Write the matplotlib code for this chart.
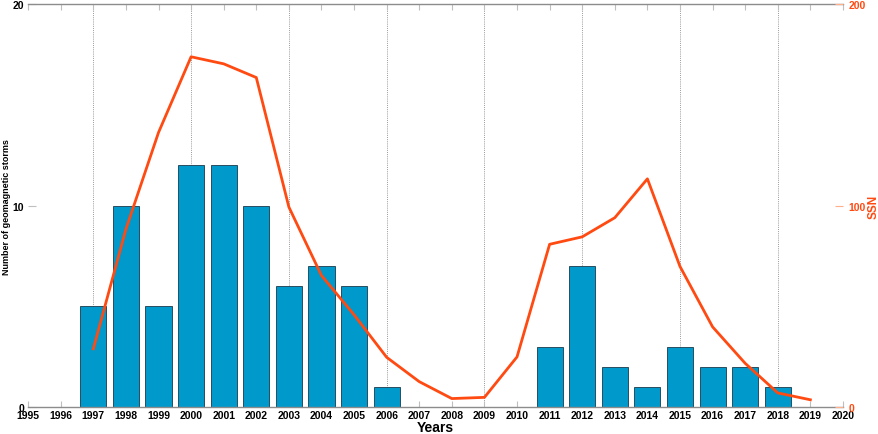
import matplotlib
matplotlib.use("Agg")
import matplotlib.pyplot as plt

# yearly counts of geomagnetic storms and yearly mean sunspot number
years = list(range(1997, 2020))
storms = [5, 10, 5, 12, 12, 10, 6, 7, 6, 1, 0, 0, 0, 0, 3, 7, 2, 1, 3, 2, 2, 1, 0]
ssn = [28.9, 88.3, 136.3, 173.9, 170.4, 163.6, 99.3, 65.3, 45.8, 24.7, 12.6, 4.2,
       4.8, 24.9, 80.8, 84.5, 94.0, 113.3, 69.8, 39.8, 21.7, 7.0, 3.6]
xticks = list(range(1995, 2021))
grid_years = list(range(1997, 2020, 3))

BLUE = "#0099CC"
ORANGE = "#FF4A12"

plt.rcParams["font.family"] = ["Liberation Sans", "DejaVu Sans"]
plt.rcParams["font.weight"] = "bold"

fig = plt.figure(figsize=(8.79, 4.35), dpi=100)
ax = fig.add_axes([0.032, 0.062, 0.927, 0.926])

# only draw bars with a non-zero count
bx = [y for y, s in zip(years, storms) if s > 0]
bh = [s for s in storms if s > 0]
ax.bar(bx, bh, width=0.8, color=BLUE, edgecolor="#1a3a4a", linewidth=0.6, zorder=2)

for g in grid_years:
    ax.axvline(g, ls=(0, (1, 1.2)), lw=0.7, color="0.6", zorder=1)

ax.set_xlim(1995, 2020)
ax.set_ylim(0, 20)
ax.set_xticks(xticks)
ax.set_xticklabels([str(x) for x in xticks], fontsize=7.5, fontweight="bold")
ax.set_yticks([0, 10, 20])
ax.set_yticklabels(["0", "10", "20"], fontsize=7.5, fontweight="bold")
ax.tick_params(axis="x", direction="in", length=4, color="0.75", pad=2, top=True)
ax.tick_params(axis="y", direction="in", length=6, color="0.75", pad=3)
for s in ("left", "right"):
    ax.spines[s].set_visible(False)
for s in ("top", "bottom"):
    ax.spines[s].set_color("0.55")
    ax.spines[s].set_linewidth(1.0)
ax.set_xlabel("Years", fontsize=10, fontweight="bold", labelpad=0)
ax.set_ylabel("Number of geomagnetic storms", fontsize=6.5, fontweight="bold")
ax.yaxis.set_label_coords(-0.021, 0.5)

ax2 = ax.twinx()
ax2.plot(years, ssn, color=ORANGE, lw=2.0, zorder=3)
ax2.set_ylim(0, 200)
ax2.set_yticks([0, 100, 200])
ax2.set_yticklabels(["0", "100", "200"], fontsize=7.5, fontweight="bold", color=ORANGE)
ax2.tick_params(axis="y", direction="in", length=6, color="#FFB08A", pad=4)
for s in ("left", "right", "top", "bottom"):
    ax2.spines[s].set_visible(False)
ax2.set_ylabel("SSN", fontsize=8.5, fontweight="bold", color=ORANGE)
ax2.yaxis.set_label_coords(1.030, 0.5)

fig.savefig("out.png", dpi=100)
